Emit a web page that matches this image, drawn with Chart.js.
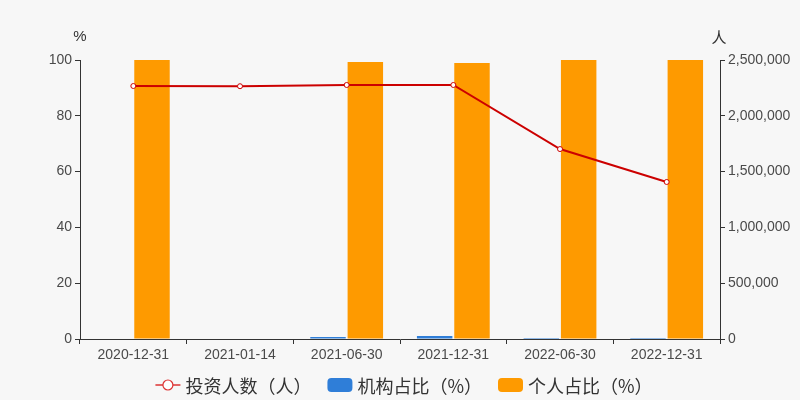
<!DOCTYPE html>
<html><head><meta charset="utf-8">
<script src="https://cdn.jsdelivr.net/npm/chart.js@4/dist/chart.umd.min.js"></script>
<style>html,body{margin:0;padding:0;background:#f7f7f7;}#wrap{width:800px;height:400px;}</style>
</head><body><div id="wrap"><canvas id="c" width="800" height="400"></canvas></div>
<script>
const categories = ['2020-12-31','2021-01-14','2021-06-30','2021-12-31','2022-06-30','2022-12-31'];
const investors = [2267000, 2265000, 2276000, 2276000, 1702000, 1407000];
const institutionPct = [null, null, 0.7, 1.1, 0.03, 0.02];
const individualPct = [100, null, 99.3, 98.9, 99.97, 99.98];
const seriesNames = ['投资人数（人）', '机构占比（%）', '个人占比（%）'];
const leftTicks = [0, 20, 40, 60, 80, 100];
const rightTicks = [0, 500000, 1000000, 1500000, 2000000, 2500000];

const RED = '#cc0000', BLUE = '#2f7ed8', ORANGE = '#fe9a00';
const tickFont = {family: 'Arial, "Liberation Sans", sans-serif', size: 14};
const tickColor = '#4a4a4a';

const extras = {
  id: 'extras',
  afterDraw(chart) {
    const ctx = chart.ctx;
    const ca = chart.chartArea;
    ctx.save();
    ctx.fillStyle = '#333';
    ctx.font = '15px Arial, "Liberation Sans", sans-serif';
    ctx.textAlign = 'center';
    ctx.textBaseline = 'middle';
    ctx.fillText('%', ca.left, ca.top - 23);
    ctx.font = '15px "Noto Sans CJK SC", sans-serif';
    ctx.fillText('人', ca.right - 1, ca.top - 23);
    // legend
    ctx.font = '18px "Noto Sans CJK SC", sans-serif';
    const iconW = 25, gapIT = 5, gapItems = 16, y = 385;
    const widths = seriesNames.map(t => iconW + gapIT + ctx.measureText(t).width);
    const total = widths.reduce((a,b)=>a+b,0) + gapItems * (seriesNames.length - 1);
    let x = 404 - total / 2;
    const colors = [RED, BLUE, ORANGE];
    seriesNames.forEach((t, i) => {
      if (i === 0) {
        ctx.strokeStyle = '#d33'; ctx.lineWidth = 1.5;
        ctx.beginPath(); ctx.moveTo(x, y); ctx.lineTo(x + iconW, y); ctx.stroke();
        ctx.beginPath(); ctx.arc(x + iconW/2, y, 5, 0, Math.PI*2);
        ctx.fillStyle = '#fff'; ctx.fill(); ctx.lineWidth = 1.2; ctx.stroke();
      } else {
        ctx.fillStyle = colors[i];
        ctx.beginPath();
        ctx.roundRect(x, y - 7, iconW, 14, 4);
        ctx.fill();
      }
      ctx.fillStyle = '#333';
      ctx.textAlign = 'left';
      ctx.fillText(t, x + iconW + gapIT, y + 1);
      x += widths[i] + gapItems;
    });
    ctx.restore();
  }
};
const bg = {
  id: 'bg',
  beforeDraw(chart) {
    const ctx = chart.ctx;
    ctx.save(); ctx.fillStyle = '#f7f7f7'; ctx.fillRect(0, 0, chart.width, chart.height); ctx.restore();
  }
};

new Chart(document.getElementById('c'), {
  data: {
    labels: categories,
    datasets: [
      {type: 'line', label: seriesNames[0], data: investors, yAxisID: 'y1', order: 0,
       borderColor: RED, borderWidth: 2, pointRadius: 2.5, pointBackgroundColor: '#fff',
       pointBorderColor: RED, pointBorderWidth: 1, tension: 0},
      {type: 'bar', label: seriesNames[1], data: institutionPct, yAxisID: 'y', order: 1,
       backgroundColor: BLUE, categoryPercentage: 0.7, barPercentage: 0.95},
      {type: 'bar', label: seriesNames[2], data: individualPct, yAxisID: 'y', order: 1,
       backgroundColor: ORANGE, categoryPercentage: 0.7, barPercentage: 0.95}
    ]
  },
  options: {
    responsive: false,
    animation: false,
    layout: {padding: {top: 60, bottom: 0, left: 0, right: 0}},
    plugins: {legend: {display: false}, tooltip: {enabled: false}},
    scales: {
      x: {
        offset: true,
        grid: {display: true, offset: true, drawOnChartArea: false, drawTicks: true, tickLength: 5, color: '#333'},
        border: {display: true, color: '#333', width: 1},
        ticks: {color: tickColor, font: tickFont, maxRotation: 0, autoSkip: false, padding: 3},
        afterFit(s) { s.height = 61; }
      },
      y: {
        position: 'left', min: 0, max: 100,
        afterBuildTicks(s) { s.ticks = leftTicks.map(v => ({value: v})); },
        grid: {display: true, drawOnChartArea: false, drawTicks: true, tickLength: 5, color: '#333'},
        border: {display: true, color: '#333', width: 1},
        ticks: {color: tickColor, font: tickFont, padding: 3},
        afterFit(s) { s.width = 80; }
      },
      y1: {
        position: 'right', min: 0, max: 2500000,
        afterBuildTicks(s) { s.ticks = rightTicks.map(v => ({value: v})); },
        grid: {display: true, drawOnChartArea: false, drawTicks: true, tickLength: 5, color: '#333'},
        border: {display: true, color: '#333', width: 1},
        ticks: {color: tickColor, font: tickFont, padding: 3,
                callback: v => v.toLocaleString('en-US')},
        afterFit(s) { s.width = 80; }
      }
    }
  },
  plugins: [bg, extras]
});
</script>
</body></html>
